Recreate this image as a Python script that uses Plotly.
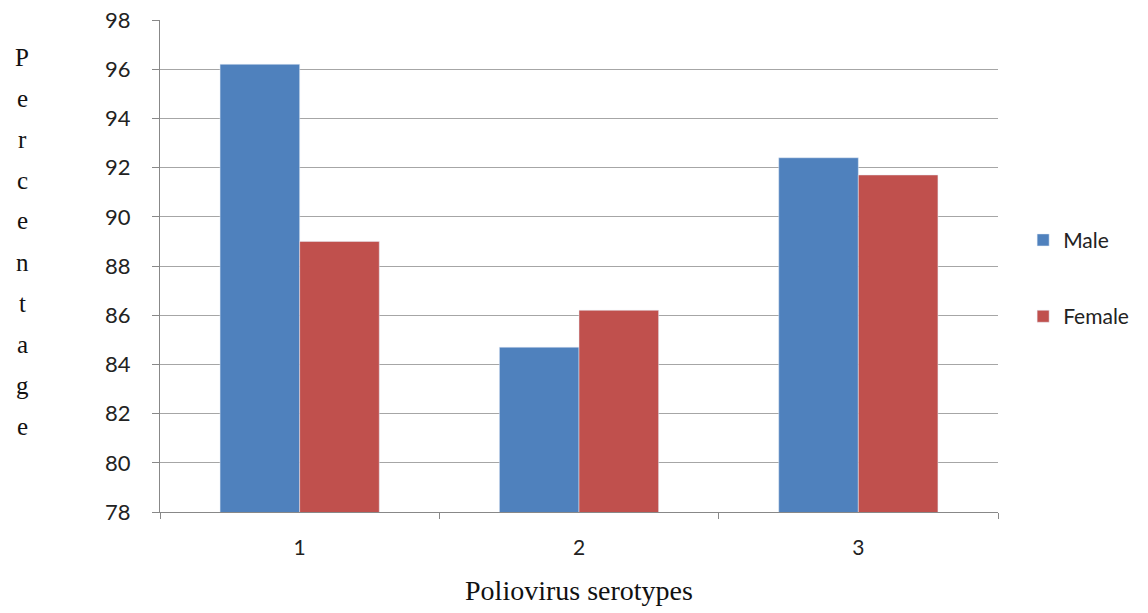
import plotly.graph_objects as go

categories = ["1", "2", "3"]
male = [96.2, 84.7, 92.4]
female = [89.0, 86.2, 91.7]
y_ticks = [78, 80, 82, 84, 86, 88, 90, 92, 94, 96, 98]
y_title = "Percentage"
x_title = "Poliovirus serotypes"

fig = go.Figure()
fig.add_trace(go.Bar(x=categories, y=male, name="Male", marker_color="#4F81BD",
                     legendgroup="m"))
fig.add_trace(go.Bar(x=categories, y=female, name="Female", marker_color="#C0504D",
                     legendgroup="f"))

W, H = 1148, 613
ml, mr, mt, mb = 160, 150, 20, 101

fig.update_layout(
    width=W, height=H,
    margin=dict(l=ml, r=mr, t=mt, b=mb, autoexpand=False),
    paper_bgcolor="white", plot_bgcolor="white",
    barmode="group", bargap=0.43, bargroupgap=0,
    font=dict(family="Lato, Liberation Sans, sans-serif", size=21, color="#222"),
    legend=dict(x=1.03, y=0.475, xanchor="left", yanchor="middle",
                traceorder="grouped", tracegroupgap=46,
                font=dict(size=21, color="#222"), itemwidth=30),
    showlegend=True,
)
fig.update_xaxes(
    automargin=False,
    showline=True, linecolor="#888", linewidth=1,
    ticks="outside", ticklen=6, tickcolor="#888", tickson="boundaries",
    ticklabelstandoff=17,
    showgrid=False,
    title=dict(text=x_title, font=dict(family="Liberation Serif, serif", size=28, color="#111"),
               standoff=22),
)
fig.update_yaxes(
    automargin=False,
    range=[78, 98], tickvals=y_ticks,
    showline=True, linecolor="#888", linewidth=1,
    ticks="outside", ticklen=7, tickcolor="#888",
    ticklabelstandoff=17,
    tickfont=dict(size=22),
    showgrid=True, gridcolor="#a6a6a6", gridwidth=1,
    zeroline=False,
)

# vertical stacked y-axis title, one letter per line
top_px, step_px = 57, 41.0
for i, ch in enumerate(y_title):
    ypx = top_px + i * step_px
    fig.add_annotation(
        text=ch, xref="paper", yref="paper",
        x=(22 - ml) / (W - ml - mr), y=1 - (ypx - mt) / (H - mt - mb),
        showarrow=False, xanchor="center", yanchor="middle",
        font=dict(family="Liberation Serif, serif", size=25, color="#111"),
    )

fig.write_html("out.html")
